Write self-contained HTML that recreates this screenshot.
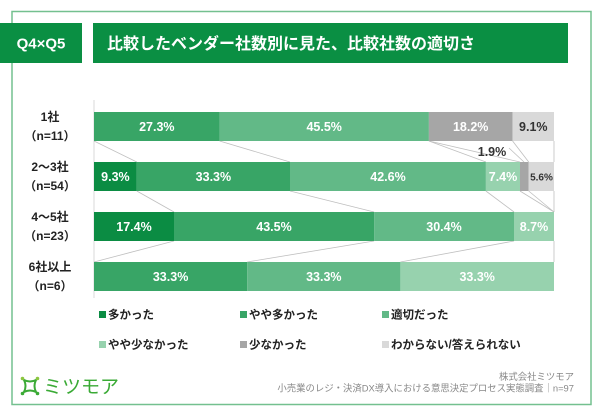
<!DOCTYPE html>
<html><head><meta charset="utf-8">
<style>
html,body{margin:0;padding:0;background:#fff;}
svg{display:block;}
text{font-family:"Liberation Sans","Noto Sans CJK JP",sans-serif;}
</style></head>
<body>
<svg width="600" height="415" viewBox="0 0 600 415" xmlns="http://www.w3.org/2000/svg">
<rect x="0" y="0" width="600" height="415" fill="#fff"/>
<!-- outer frame -->
<rect x="12" y="11.5" width="579" height="393" fill="none" stroke="#74c08f" stroke-width="1.5"/>
<!-- header boxes -->
<rect x="0" y="23" width="82" height="40" fill="#0a8f43"/>
<text x="41" y="48.5" font-size="15" font-weight="bold" fill="#fff" text-anchor="middle">Q4×Q5</text>
<rect x="93" y="23" width="475" height="40" fill="#0a8f43"/>
<text x="107" y="49" font-size="16" font-weight="bold" fill="#fff">比較したベンダー社数別に見た、比較社数の適切さ</text>

<!-- axis line -->
<line x1="94" y1="100" x2="94" y2="298" stroke="#d9d9d9" stroke-width="1"/>

<!-- connectors -->
<g stroke="#bfbfbf" stroke-width="0.8" fill="none">
<line x1="94" y1="141" x2="136.8" y2="162"/>
<line x1="219.6" y1="141" x2="290" y2="162"/>
<line x1="428.9" y1="141" x2="485.9" y2="162"/>
<line x1="428.9" y1="141" x2="520" y2="162"/>
<line x1="512.6" y1="141" x2="528.7" y2="162"/>
<line x1="554" y1="141" x2="554" y2="162"/>
<line x1="136.8" y1="191" x2="174" y2="212"/>
<line x1="290" y1="191" x2="374.1" y2="212"/>
<line x1="485.9" y1="191" x2="514" y2="212"/>
<line x1="520" y1="191" x2="554" y2="212"/>
<line x1="528.7" y1="191" x2="554" y2="212"/>
<line x1="554" y1="191" x2="554" y2="212"/>
<line x1="174" y1="241" x2="94" y2="262"/>
<line x1="374.1" y1="241" x2="247.2" y2="262"/>
<line x1="514" y1="241" x2="400.4" y2="262"/>
<line x1="554" y1="241" x2="554" y2="262"/>
<line x1="509" y1="148" x2="524" y2="162"/>
</g>

<!-- Bar 1 -->
<rect x="94" y="112" width="125.6" height="29" fill="#38a566"/>
<rect x="219.6" y="112" width="209.3" height="29" fill="#62b987"/>
<rect x="428.9" y="112" width="83.7" height="29" fill="#a6a6a6"/>
<rect x="512.6" y="112" width="41.4" height="29" fill="#d9d9d9"/>
<g font-size="12.5" font-weight="bold" fill="#fff" text-anchor="middle">
<text x="156.8" y="131">27.3%</text>
<text x="324.2" y="131">45.5%</text>
<text x="470.7" y="131">18.2%</text>
</g>
<text x="533.3" y="131" font-size="12.5" font-weight="bold" fill="#333" text-anchor="middle">9.1%</text>

<!-- Bar 2 -->
<rect x="94" y="162" width="42.8" height="29" fill="#0b8c43"/>
<rect x="136.8" y="162" width="153.2" height="29" fill="#38a566"/>
<rect x="290" y="162" width="195.9" height="29" fill="#62b987"/>
<rect x="485.9" y="162" width="34.1" height="29" fill="#97d2ae"/>
<rect x="520" y="162" width="8.7" height="29" fill="#a6a6a6"/>
<rect x="528.7" y="162" width="25.3" height="29" fill="#d9d9d9"/>
<g font-size="12.5" font-weight="bold" fill="#fff" text-anchor="middle">
<text x="115.4" y="181">9.3%</text>
<text x="213.4" y="181">33.3%</text>
<text x="388" y="181">42.6%</text>
<text x="503" y="181">7.4%</text>
</g>
<text x="541.5" y="180.5" font-size="10" font-weight="bold" fill="#333" text-anchor="middle">5.6%</text>
<text x="492" y="156" font-size="12.5" font-weight="bold" fill="#333" text-anchor="middle">1.9%</text>

<!-- Bar 3 -->
<rect x="94" y="212" width="80" height="29" fill="#0b8c43"/>
<rect x="174" y="212" width="200.1" height="29" fill="#38a566"/>
<rect x="374.1" y="212" width="139.9" height="29" fill="#62b987"/>
<rect x="514" y="212" width="40" height="29" fill="#97d2ae"/>
<g font-size="12.5" font-weight="bold" fill="#fff" text-anchor="middle">
<text x="134" y="231">17.4%</text>
<text x="274" y="231">43.5%</text>
<text x="444" y="231">30.4%</text>
<text x="534" y="231">8.7%</text>
</g>

<!-- Bar 4 -->
<rect x="94" y="262" width="153.2" height="29" fill="#38a566"/>
<rect x="247.2" y="262" width="153.2" height="29" fill="#62b987"/>
<rect x="400.4" y="262" width="153.6" height="29" fill="#97d2ae"/>
<g font-size="12.5" font-weight="bold" fill="#fff" text-anchor="middle">
<text x="170.6" y="281">33.3%</text>
<text x="323.8" y="281">33.3%</text>
<text x="477.2" y="281">33.3%</text>
</g>

<!-- Row labels -->
<g font-size="12" font-weight="bold" fill="#222" text-anchor="middle">
<text x="50" y="121">1社</text>
<text x="50" y="140">（n=11）</text>
<text x="50" y="171">2～3社</text>
<text x="50" y="190">（n=54）</text>
<text x="50" y="221">4～5社</text>
<text x="50" y="240">（n=23）</text>
<text x="50" y="271">6社以上</text>
<text x="50" y="290">（n=6）</text>
</g>

<!-- Legend -->
<g font-size="11.5" font-weight="bold" fill="#222">
<rect x="99" y="311" width="7" height="7" fill="#0b8c43"/>
<text x="108" y="318.5">多かった</text>
<rect x="240" y="311" width="7" height="7" fill="#38a566"/>
<text x="249" y="318.5">やや多かった</text>
<rect x="382" y="311" width="7" height="7" fill="#62b987"/>
<text x="391" y="318.5">適切だった</text>
<rect x="99" y="341" width="7" height="7" fill="#97d2ae"/>
<text x="108" y="348.5">やや少なかった</text>
<rect x="240" y="341" width="7" height="7" fill="#a6a6a6"/>
<text x="249" y="348.5">少なかった</text>
<rect x="382" y="341" width="7" height="7" fill="#d9d9d9"/>
<text x="391" y="348.5">わからない/答えられない</text>
</g>

<!-- Logo -->
<g>
<path d="M24 380 Q30 383 36 380 Q33 386 36 392 Q30 389 24 392 Q27 386 24 380 Z" fill="none" stroke="#3aaa35" stroke-width="2"/>
<circle cx="22.5" cy="378.5" r="1.8" fill="#8cc63f"/>
<circle cx="37.5" cy="378.5" r="1.8" fill="#8cc63f"/>
<circle cx="22.5" cy="393.5" r="1.8" fill="#3aaa35"/>
<circle cx="37.5" cy="393.5" r="1.8" fill="#3aaa35"/>
<text x="43" y="393" font-size="19" fill="#3aaa35">ミツモア</text>
</g>

<!-- Footer -->
<g font-size="9.4" fill="#888" text-anchor="end">
<text x="574" y="380">株式会社ミツモア</text>
<text x="574" y="391.5">小売業のレジ・決済DX導入における意思決定プロセス実態調査｜n=97</text>
</g>
</svg>
</body></html>
